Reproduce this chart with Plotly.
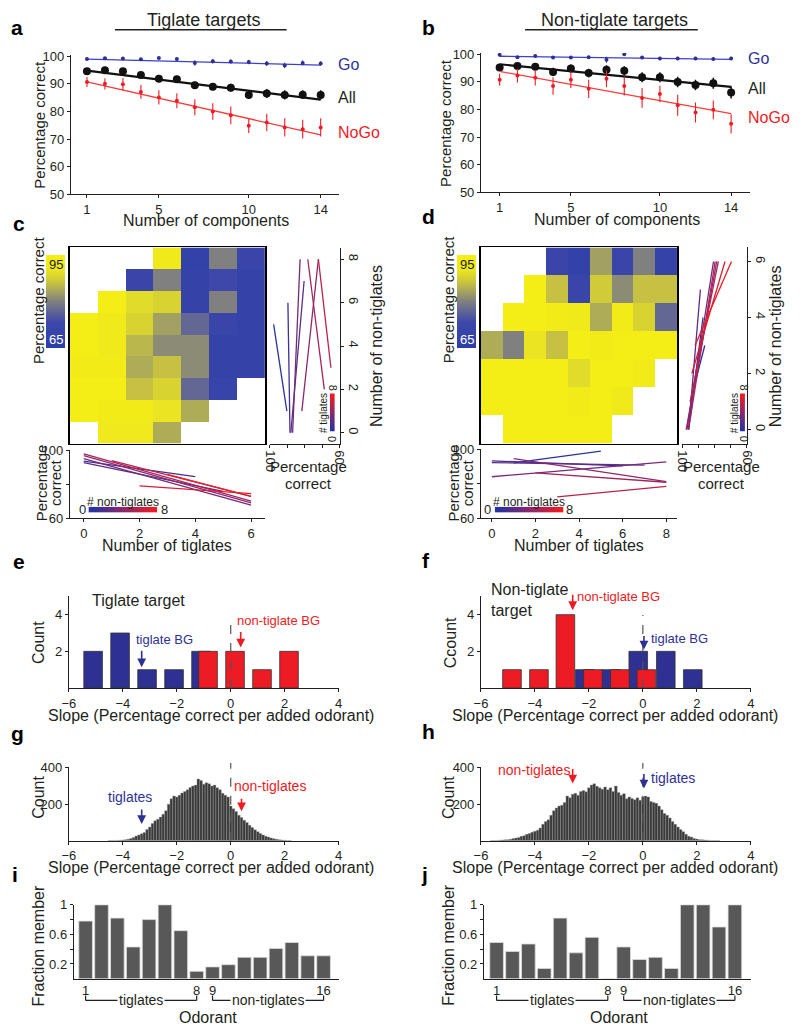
import plotly.graph_objects as go

W, H = 800, 1036
FONT = 'Liberation Sans, Arial, Helvetica, sans-serif'
INK = '#231f20'
BLUE = '#2e3192'
BLUE_L = '#3f3fcf'
RED = '#ed1c24'
RED_L = '#ff3a3a'

# ===================== DATA =====================
components = list(range(1, 15))
comp_ticks = [1, 5, 10, 14]

a_go = [99.0, 99.3, 99.2, 98.9, 99.4, 99.0, 97.6, 98.2, 98.1, 97.9, 97.4, 96.7, 97.6, 97.4]
a_go_err = [0.5, 0.4, 0.4, 0.5, 0.4, 0.5, 1.0, 0.8, 0.7, 0.8, 0.9, 1.0, 0.9, 0.8]
a_all = [94.6, 94.9, 94.6, 93.2, 91.9, 91.7, 89.5, 89.0, 88.6, 86.0, 86.5, 86.0, 86.1, 86.0]
a_all_err = [0.8, 0.9, 1.0, 1.0, 1.1, 1.2, 1.3, 1.3, 1.4, 1.5, 1.6, 1.7, 1.6, 1.7]
a_nogo = [90.7, 90.0, 89.9, 87.1, 85.1, 83.9, 81.5, 80.0, 78.6, 74.8, 76.0, 74.2, 73.6, 74.2]
a_nogo_err = [1.8, 2.0, 2.2, 2.5, 2.6, 2.7, 2.9, 3.0, 3.2, 2.6, 3.2, 3.3, 3.4, 3.3]
a_fit_go = [99.0, 96.8]
a_fit_all = [94.8, 84.3]
a_fit_nogo = [90.7, 71.5]

b_go = [99.8, 98.9, 99.4, 98.8, 98.8, 98.9, 98.0, 100.0, 98.8, 98.5, 98.5, 98.5, 98.3, 98.5]
b_go_err = [0.3, 0.4, 0.4, 0.5, 0.5, 0.5, 1.1, 0.3, 0.6, 0.6, 0.6, 0.6, 0.6, 0.6]
b_all = [95.2, 95.8, 95.5, 93.6, 94.9, 93.2, 94.4, 94.0, 91.7, 91.7, 90.0, 88.9, 89.5, 86.2]
b_all_err = [1.2, 1.2, 1.3, 1.5, 1.4, 1.6, 1.6, 1.7, 1.8, 1.8, 1.9, 1.9, 2.0, 2.2]
b_nogo = [90.8, 92.3, 91.5, 88.5, 90.8, 87.5, 91.1, 88.5, 84.2, 85.6, 81.5, 78.9, 79.9, 74.8]
b_nogo_err = [2.2, 2.5, 2.8, 3.2, 3.0, 3.3, 3.0, 3.4, 3.6, 3.0, 3.8, 3.6, 3.4, 3.5]
b_fit_go = [99.3, 98.2]
b_fit_all = [96.4, 88.2]
b_fit_nogo = [93.8, 78.5]

# heatmaps: rows = number of non-tiglates, columns = number of tiglates
c_tig = list(range(7))
c_nontig = list(range(9))
c_hm = [
    [None, 91, 91, 84, None, None, None],
    [94, 93, 93, 90, 84, None, None],
    [94, 94, 86, 88, 77, 70, None],
    [93, 93, 84, 86, 81, 69, 69],
    [94, 92, 85, 81, 81, 69, 69],
    [94, 92, 88, 83, 77, 71, 69],
    [None, 94, 89, 88, 69, 80, 69],
    [None, None, 71, 80, 69, 73, 69],
    [None, None, None, 92, 68, 80, 71],
]
d_tig = list(range(9))
d_nontig = list(range(7))
d_hm = [
    [None, 94, 94, 94, 94, 94, None, None, None],
    [94, 94, 94, 94, 93, 94, 92, None, None],
    [94, 94, 94, 94, 89, 94, 94, 93, None],
    [84, 80, 90, 86, 94, 93, 94, 94, 94],
    [None, 94, 94, 93, 92, 84, 93, 88, 77],
    [None, None, 94, 86, 71, 87, 81, 86, 86],
    [None, None, None, 71, 68, 83, 71, 80, 69],
]

# side fits (per number of tiglates): % correct vs number of non-tiglates
c_side_tig = [0, 1, 2, 3, 4, 5, 6]
c_side_nt_lo = [1, 0, 0, 0, 1, 2, 3]
c_side_nt_hi = [5, 6, 7, 8, 8, 8, 8]
c_side_pc_lo = [90.3, 88.5, 88.0, 87.0, 81.7, 68.8, 65.0]
c_side_pc_hi = [97.9, 89.7, 80.4, 82.7, 72.2, 78.3, 72.2]

d_side_tig = [0, 1, 2, 3, 4, 5, 6, 7, 8]
d_side_nt_lo = [1, 0, 0, 0, 0, 0, 1, 2, 3]
d_side_nt_hi = [3, 4, 5, 6, 6, 6, 6, 6, 6]
d_side_pc_lo = [95.0, 96.0, 96.0, 97.0, 97.5, 96.0, 95.0, 94.0, 92.0]
d_side_pc_hi = [86.0, 87.1, 88.7, 80.6, 78.6, 79.6, 77.6, 73.5, 69.5]

# bottom fits (per number of non-tiglates): % correct vs number of tiglates
c_bot_nt = [1, 2, 3, 4, 5, 6, 7, 8]
c_bot_x_lo = [0, 0, 0, 0, 0, 1, 2, 3]
c_bot_x_hi = [4, 5, 6, 6, 6, 6, 6, 6]
c_bot_pc_lo = [93.8, 92.9, 95.2, 97.0, 98.0, 94.0, 79.2, 86.0]
c_bot_pc_hi = [84.6, 76.0, 67.9, 69.2, 70.2, 73.0, 74.6, 73.0]

d_bot_nt = [0, 1, 2, 3, 4, 5, 6]
d_bot_x_lo = [1, 0, 0, 0, 1, 2, 3]
d_bot_x_hi = [5, 6, 7, 8, 8, 8, 8]
d_bot_pc_lo = [92.2, 93.4, 92.4, 84.2, 94.7, 86.5, 72.5]
d_bot_pc_hi = [99.0, 90.5, 90.9, 92.8, 81.4, 81.0, 78.6]

# slope histograms (e, f)
e_blue_x = [-5.1, -4.1, -3.1, -2.1, -1.1]
e_blue_n = [2, 3, 1, 1, 2]
e_red_x = [-0.84, 0.16, 1.16, 2.16]
e_red_n = [2, 2, 1, 2]
f_blue_x = [-2.15, -1.18, -0.17, 0.85, 1.85]
f_blue_n = [1, 1, 2, 2, 1]
f_red_x = [-4.85, -3.85, -2.87, -1.85, -0.85, 0.13]
f_red_n = [1, 1, 4, 1, 1, 1]
e_arrows = {'tiglate BG': -3.3, 'non-tiglate BG': 0.37}
f_arrows = {'non-tiglate BG': -2.6, 'tiglate BG': 0.04}

# shuffled slope distributions (g, h), bin width 0.1
g_start, h_start, bin_w = -4.5, -5.6, 0.1
g_counts = [1, 1, 2, 2, 3, 4, 6, 8, 12, 18, 26, 32, 38, 45, 62, 75, 95, 110, 118, 130,
            145, 165, 200, 230, 245, 240, 250, 262, 270, 280, 292, 300, 305, 338, 330, 310, 318, 312, 300, 305,
            290, 280, 260, 250, 240, 190, 175, 160, 140, 128, 112, 100, 85, 72, 60, 50, 40, 32, 25, 20,
            15, 11, 8, 6, 4, 3, 2, 1]
h_counts = [1, 2, 2, 3, 4, 5, 6, 8, 12, 15, 18, 24, 28, 35, 40, 46, 52, 58, 70, 90,
            105, 115, 140, 165, 180, 190, 195, 210, 245, 235, 255, 260, 250, 270, 275, 268, 290, 305, 312, 298,
            290, 282, 295, 280, 290, 270, 300, 265, 250, 258, 230, 240, 232, 225, 235, 222, 240, 245, 240, 215,
            210, 205, 190, 170, 150, 140, 125, 105, 90, 75, 62, 50, 35, 25, 20, 12, 9, 6, 5, 4,
            3, 2, 2, 1, 1]
g_arrows = {'tiglates': -3.3, 'non-tiglates': 0.4}
h_arrows = {'non-tiglates': -2.6, 'tiglates': 0.04}

# fraction member (i, j)
odorants = list(range(1, 17))
odor_ticks = [1, 8, 9, 16]
i_frac = [0.78, 1.0, 0.82, 0.43, 0.80, 1.0, 0.65, 0.10, 0.16, 0.19, 0.29, 0.29, 0.41, 0.49, 0.31, 0.31]
j_frac = [0.49, 0.37, 0.47, 0.14, 0.82, 0.35, 0.56, 0.0, 0.43, 0.26, 0.29, 0.14, 1.0, 1.0, 0.70, 1.0]

# ===================== HELPERS =====================
def px(x): return x / W
def py(y): return 1 - y / H

def ref(n):
    return ('x' if n == 1 else f'x{n}'), ('y' if n == 1 else f'y{n}')

STOPS = [(0.0, (40, 50, 160)), (0.5, (140, 40, 110)), (1.0, (237, 28, 36))]
def bluered(t):
    t = max(0.0, min(1.0, t))
    for (t0, c0), (t1, c1) in zip(STOPS[:-1], STOPS[1:]):
        if t <= t1:
            f = (t - t0) / (t1 - t0)
            c = [round(c0[k] + f * (c1[k] - c0[k])) for k in range(3)]
            return f'rgb({c[0]},{c[1]},{c[2]})'
    return 'rgb(237,28,36)'
BR_SCALE = [[s, f'rgb{c}'] for s, c in STOPS]
HM_SCALE = [[0.0, 'rgb(45,62,168)'], [0.28, 'rgb(62,72,170)'], [0.5, 'rgb(128,128,128)'],
            [0.72, 'rgb(205,200,60)'], [0.85, 'rgb(238,232,30)'], [1.0, 'rgb(246,238,20)']]

BASE = dict(showgrid=False, zeroline=False, showline=True, linecolor=INK, linewidth=1,
            ticks='outside', ticklen=3, tickwidth=1, tickcolor=INK,
            tickfont=dict(size=13, family=FONT, color=INK))
layout = {}

def set_axes(n, x0, x1, y0, y1, xr, yr, xkw=None, ykw=None):
    xa, ya = ref(n)
    xd = dict(BASE); xd.update(domain=[px(x0), px(x1)], range=xr, anchor=ya)
    yd = dict(BASE); yd.update(domain=[py(y1), py(y0)], range=yr, anchor=xa)
    if xkw: xd.update(xkw)
    if ykw: yd.update(ykw)
    layout['xaxis' if n == 1 else f'xaxis{n}'] = xd
    layout['yaxis' if n == 1 else f'yaxis{n}'] = yd

fig = go.Figure()
ann = []
shapes = []

def text(x, y, s, size=15, color=INK, angle=0, bold=False, **kw):
    d = dict(x=px(x), y=py(y), xref='paper', yref='paper', text=(f'<b>{s}</b>' if bold else s),
             showarrow=False, textangle=angle,
             font=dict(size=size, family=FONT, color=color), xanchor='center', yanchor='middle')
    d.update(kw)
    ann.append(d)

def line_px(x0, y0, x1, y1, color=INK, width=1.2, dash=None):
    shapes.append(dict(type='line', xref='paper', yref='paper', x0=px(x0), y0=py(y0), x1=px(x1), y1=py(y1),
                       line=dict(color=color, width=width, dash=dash)))

# ===================== PANELS a, b =====================
def panel_ab(n, fits, series, xpx, yrng_px, xr):
    xa, ya = ref(n)
    set_axes(n, xpx[0], xpx[1], yrng_px[0], yrng_px[1], xr, [50, 100.5],
             xkw=dict(tickvals=comp_ticks), ykw=dict(tickvals=[50, 60, 70, 80, 90, 100]))
    for (vals, errs, col, lcol, size, lw, et), fit in zip(series, fits):
        fig.add_trace(go.Scatter(x=[components[0], components[-1]], y=fit, mode='lines',
                                 line=dict(color=lcol, width=lw), xaxis=xa, yaxis=ya, showlegend=False))
        fig.add_trace(go.Scatter(x=components, y=vals, mode='markers',
                                 marker=dict(color=col, size=size),
                                 error_y=dict(type='data', array=errs, color=col, thickness=et, width=0),
                                 xaxis=xa, yaxis=ya, showlegend=False))

panel_ab(1, [a_fit_go, a_fit_all, a_fit_nogo],
         [(a_go, a_go_err, BLUE, BLUE_L, 4, 1.3, 1.0),
          (a_all, a_all_err, '#111', '#111', 8, 2.2, 1.5),
          (a_nogo, a_nogo_err, RED, RED_L, 4, 1.3, 1.1)],
         (65, 338), (48.6, 190), [0.1, 15])
panel_ab(2, [b_fit_go, b_fit_all, b_fit_nogo],
         [(b_go, b_go_err, BLUE, BLUE_L, 4, 1.3, 1.0),
          (b_all, b_all_err, '#111', '#111', 8, 2.2, 1.5),
          (b_nogo, b_nogo_err, RED, RED_L, 4, 1.3, 1.1)],
         (483, 757), (46.6, 188), [-0.05, 15.05])

text(200, 13, 'Tiglate targets', size=18)
line_px(110, 23, 285, 23, width=1.5)
text(619, 13, 'Non-tiglate targets', size=18)
line_px(528, 23, 704, 23, width=1.5)
text(335, 58, 'Go', size=16, color=BLUE, xanchor='left')
text(335, 92, 'All', size=16, color=INK, xanchor='left')
text(335, 127, 'NoGo', size=16, color=RED, xanchor='left')
text(753, 52, 'Go', size=16, color=BLUE, xanchor='left')
text(753, 83, 'All', size=16, color=INK, xanchor='left')
text(753, 112, 'NoGo', size=16, color=RED, xanchor='left')
text(33, 119, 'Percentage correct', size=15, angle=-90)
text(447, 118, 'Percentage correct', size=15, angle=-90)
text(203, 217, 'Number of components', size=16)
text(622, 216, 'Number of components', size=16)

# ===================== PANELS c, d heatmaps =====================
HM_AX = dict(showline=True, mirror=True, linecolor='#000', linewidth=1.5, ticks='', showticklabels=False)
set_axes(3, 64, 263, 244, 443, [-0.5, 6.5], [-0.5, 8.5], xkw=HM_AX, ykw=HM_AX)
set_axes(6, 483, 683, 244, 443, [-0.5, 8.5], [-0.5, 6.5], xkw=HM_AX, ykw=HM_AX)
fig.add_trace(go.Heatmap(x=c_tig, y=c_nontig, z=c_hm, coloraxis='coloraxis', xaxis='x3', yaxis='y3',
                         hoverongaps=False))
fig.add_trace(go.Heatmap(x=d_tig, y=d_nontig, z=d_hm, coloraxis='coloraxis2', xaxis='x6', yaxis='y6',
                         hoverongaps=False))
def cbar(xleft):
    return dict(thickness=19, thicknessmode='pixels', len=93, lenmode='pixels', x=px(xleft), xanchor='left',
                y=py(252), yanchor='top', xpad=0, ypad=0, outlinewidth=0, showticklabels=False, ticks='')
layout['coloraxis'] = dict(colorscale=HM_SCALE, cmin=65, cmax=95, colorbar=cbar(40))
layout['coloraxis2'] = dict(colorscale=HM_SCALE, cmin=65, cmax=95, colorbar=cbar(459))
for xc in (49.5, 468.5):
    text(xc, 261, '95', size=13, color=INK)
    text(xc, 337, '65', size=13, color='white')
text(32, 297, 'Percentage correct', size=15, angle=-90)
text(450, 297, 'Percentage correct', size=15, angle=-90)

# side plots (right)
SIDE_X = dict(tickvals=[100, 90, 80, 70, 60], ticktext=['100', '', '', '', '60'], tickangle=90)
set_axes(4, 268, 339, 245, 443, [100, 60], [-0.5, 8.5], xkw=SIDE_X,
         ykw=dict(side='right', tickvals=[0, 2, 4, 6, 8], tickangle=90))
set_axes(7, 688, 754, 244, 443, [100, 60], [-0.5, 6.5], xkw=SIDE_X,
         ykw=dict(side='right', tickvals=[0, 2, 4, 6], tickangle=90))
for tg, n0, n1, p0, p1 in zip(c_side_tig, c_side_nt_lo, c_side_nt_hi, c_side_pc_lo, c_side_pc_hi):
    fig.add_trace(go.Scatter(x=[p0, p1], y=[n0, n1], mode='lines', line=dict(color=bluered(tg / 8), width=1.3),
                             xaxis='x4', yaxis='y4', showlegend=False))
for tg, n0, n1, p0, p1 in zip(d_side_tig, d_side_nt_lo, d_side_nt_hi, d_side_pc_lo, d_side_pc_hi):
    fig.add_trace(go.Scatter(x=[p0, p1], y=[n0, n1], mode='lines', line=dict(color=bluered(tg / 8), width=1.3),
                             xaxis='x7', yaxis='y7', showlegend=False))
text(376, 344, 'Number of non-tiglates', size=16, angle=-90)
text(783, 344, 'Number of non-tiglates', size=16, angle=-90)
for x0 in (307, 728):
    text(x0, 466, 'Percentage', size=15)
    text(x0, 483, 'correct', size=15)

# bottom plots
BOT_Y = dict(tickvals=[60, 80, 100], ticktext=['60', '', '100'])
set_axes(5, 64, 263, 450, 519, [-0.5, 6.5], [60, 100], xkw=dict(tickvals=[0, 2, 4, 6]), ykw=BOT_Y)
set_axes(8, 483, 683, 449, 519, [-0.5, 8.5], [60, 100], xkw=dict(tickvals=[0, 2, 4, 6, 8]), ykw=BOT_Y)
for nt, x0, x1, p0, p1 in zip(c_bot_nt, c_bot_x_lo, c_bot_x_hi, c_bot_pc_lo, c_bot_pc_hi):
    fig.add_trace(go.Scatter(x=[x0, x1], y=[p0, p1], mode='lines', line=dict(color=bluered(nt / 8), width=1.3),
                             xaxis='x5', yaxis='y5', showlegend=False))
for nt, x0, x1, p0, p1 in zip(d_bot_nt, d_bot_x_lo, d_bot_x_hi, d_bot_pc_lo, d_bot_pc_hi):
    fig.add_trace(go.Scatter(x=[x0, x1], y=[p0, p1], mode='lines', line=dict(color=bluered(nt / 8), width=1.3),
                             xaxis='x8', yaxis='y8', showlegend=False))
for x0, xc in ((35, 163), (455, 583)):
    text(x0, 483, 'Percentage', size=15, angle=-90)
    text(x0 + 14, 483, 'correct', size=15, angle=-90)
    text(xc, 546, 'Number of tiglates', size=16)

# mini colour keys
NOAX = dict(showline=False, ticks='', showticklabels=False)
key = list(range(9))
set_axes(15, 329, 334, 392, 431, [-0.5, 0.5], [-0.5, 8.5], xkw=NOAX, ykw=NOAX)
set_axes(17, 747, 752, 392, 431, [-0.5, 0.5], [-0.5, 8.5], xkw=NOAX, ykw=NOAX)
set_axes(16, 83, 153, 507, 513, [-0.5, 8.5], [-0.5, 0.5], xkw=NOAX, ykw=NOAX)
set_axes(18, 497, 567, 507, 513, [-0.5, 8.5], [-0.5, 0.5], xkw=NOAX, ykw=NOAX)
for n in (15, 17):
    xa, ya = ref(n)
    fig.add_trace(go.Heatmap(z=[[k] for k in key], x=[0], y=key, colorscale=BR_SCALE, showscale=False,
                             zsmooth='best', xaxis=xa, yaxis=ya))
for n in (16, 18):
    xa, ya = ref(n)
    fig.add_trace(go.Heatmap(z=[key], x=key, y=[0], colorscale=BR_SCALE, showscale=False,
                             zsmooth='best', xaxis=xa, yaxis=ya))
for xc in (331, 750):
    text(xc + 1, 386, '8', size=11, angle=90)
    text(xc + 1, 438, '0', size=11, angle=90)
    text(xc - 9, 412, '# tiglates', size=10, angle=-90)
for x0, x1, xc in ((77, 160, 118), (490, 573, 532)):
    text(x0, 510, '0', size=13)
    text(x1, 510, '8', size=13)
    text(xc, 502, '# non-tiglates', size=12)

# ===================== PANELS e, f =====================
SLOPE_X = dict(tickvals=[-6, -4, -2, 0, 2, 4])
set_axes(9, 63, 338, 598, 691, [-6, 4], [0, 5], xkw=SLOPE_X, ykw=dict(tickvals=[2, 4]))
set_axes(10, 483, 758, 598, 691, [-6, 4], [0, 5], xkw=SLOPE_X, ykw=dict(tickvals=[2, 4]))
for n, bx, bn, rx, rn in ((9, e_blue_x, e_blue_n, e_red_x, e_red_n), (10, f_blue_x, f_blue_n, f_red_x, f_red_n)):
    xa, ya = ref(n)
    fig.add_trace(go.Bar(x=bx, y=bn, width=0.69, marker=dict(color=BLUE, line=dict(color='#333', width=0.8)),
                         xaxis=xa, yaxis=ya, showlegend=False))
    fig.add_trace(go.Bar(x=rx, y=rn, width=0.69, marker=dict(color=RED, line=dict(color='#333', width=0.8)),
                         xaxis=xa, yaxis=ya, showlegend=False))

def arrow(n, xval, y_tail, y_head, color):
    xa, _ = ref(n)
    ann.append(dict(x=xval, y=py(y_head), xref=xa, yref='paper', ax=0, ay=-(y_head - y_tail),
                    axref='pixel', ayref='pixel', text='', showarrow=True, arrowhead=2, arrowsize=1.1,
                    arrowwidth=1.6, arrowcolor=color))

def vdash(n, y_top, y_bot):
    xa, _ = ref(n)
    shapes.append(dict(type='line', xref=xa, yref='paper', x0=0, x1=0, y0=py(y_bot), y1=py(y_top),
                       line=dict(color='#555', width=1.2, dash='dash'), layer='above'))

vdash(9, 620, 691)
vdash(10, 617, 691)
arrow(9, e_arrows['tiglate BG'], 652, 670, BLUE)
arrow(9, e_arrows['non-tiglate BG'], 633, 650, RED)
arrow(10, f_arrows['non-tiglate BG'], 595, 612, RED)
arrow(10, f_arrows['tiglate BG'], 637, 652, BLUE)
text(134, 602, 'Tiglate target', size=16)
text(160, 642, 'tiglate BG', size=13, color=BLUE)
text(277, 623, 'non-tiglate BG', size=13, color=RED)
text(491, 602, 'Non-tiglate<br>target', size=16, xanchor='left', align='left')
text(623, 598, 'non-tiglate BG', size=13, color=RED)
text(685, 641, 'tiglate BG', size=13, color=BLUE)
text(32, 645, 'Count', size=16, angle=-90)
text(452, 645, 'Ccount', size=16, angle=-90)
text(208, 719, 'Slope (Percentage correct per added odorant)', size=16)
text(620, 719, 'Slope (Percentage correct per added odorant)', size=16)

# ===================== PANELS g, h =====================
set_axes(11, 63, 338, 771, 846, [-6, 4], [0, 405], xkw=SLOPE_X, ykw=dict(tickvals=[200, 400]))
set_axes(12, 483, 758, 771, 846, [-6, 4], [0, 405], xkw=SLOPE_X, ykw=dict(tickvals=[200, 400]))
for n, start, counts in ((11, g_start, g_counts), (12, h_start, h_counts)):
    xa, ya = ref(n)
    centers = [round(start + k * bin_w, 2) for k in range(len(counts))]
    fig.add_trace(go.Bar(x=centers, y=counts, width=bin_w,
                         marker=dict(color='#3a3a3a', line=dict(color='#9a9a9a', width=0.4)),
                         xaxis=xa, yaxis=ya, showlegend=False))
vdash(11, 767, 846)
vdash(12, 767, 846)
arrow(11, g_arrows['tiglates'], 813, 829, BLUE)
arrow(11, g_arrows['non-tiglates'], 802, 816, RED)
arrow(12, h_arrows['non-tiglates'], 772, 788, RED)
arrow(12, h_arrows['tiglates'], 777, 793, BLUE)
text(125, 802, 'tiglates', size=14, color=BLUE)
text(268, 790, 'non-tiglates', size=14, color=RED)
text(537, 774, 'non-tiglates', size=14, color=RED)
text(679, 782, 'tiglates', size=14, color=BLUE)
text(32, 802, 'Count', size=16, angle=-90)
text(450, 802, 'Count', size=16, angle=-90)
text(208, 873, 'Slope (Percentage correct per added odorant)', size=16)
text(620, 873, 'Slope (Percentage correct per added odorant)', size=16)

# ===================== PANELS i, j =====================
FR_Y = dict(tickvals=[0.2, 0.4, 0.6, 0.8, 1.0], ticktext=['0.2', '', '0.6', '', '1'])
OD_X = dict(tickvals=odor_ticks, ticks='')
set_axes(13, 68, 338, 911, 986, [0.25, 16.95], [0, 1.0], xkw=OD_X, ykw=FR_Y)
set_axes(14, 486, 758, 911, 986, [0.2, 17.0], [0, 1.0], xkw=OD_X, ykw=FR_Y)
for n, fr in ((13, i_frac), (14, j_frac)):
    xa, ya = ref(n)
    fig.add_trace(go.Bar(x=odorants, y=fr, width=0.86,
                         marker=dict(color='#585858', line=dict(color='#dddddd', width=0.8)),
                         xaxis=xa, yaxis=ya, showlegend=False))

def bracket(n, a, b, label):
    xa, _ = ref(n)
    for x0, x1, y0, y1 in ((a, b, 1008, 1008), (a, a, 1003, 1008), (b, b, 1003, 1008)):
        shapes.append(dict(type='line', xref=xa, yref='paper', x0=x0, x1=x1, y0=py(y0), y1=py(y1),
                           line=dict(color=INK, width=1.2)))
    ann.append(dict(x=(a + b) / 2, y=py(1008), xref=xa, yref='paper', text=label, showarrow=False,
                    bgcolor='white', borderpad=1, font=dict(size=14, family=FONT, color=INK),
                    xanchor='center', yanchor='middle'))

bracket(13, 1, 8, 'tiglates')
bracket(13, 9, 16, 'non-tiglates')
bracket(14, 1, 8, 'tiglates')
bracket(14, 9, 16, 'non-tiglates')
text(205, 1025, 'Odorant', size=16)
text(624, 1025, 'Odorant', size=16)
text(32, 952, 'Fraction member', size=16, angle=-90)
text(450, 952, 'Fraction member', size=16, angle=-90)

# panel letters
for (x, y, s) in ((10, 21, 'a'), (430, 21, 'b'), (12, 220, 'c'), (430, 213, 'd'), (12, 563, 'e'),
                  (427, 562, 'f'), (11, 737, 'g'), (430, 735, 'h'), (8, 880, 'i'), (425, 880, 'j')):
    text(x, y, s, size=21, bold=True, color='#000')

fig.update_layout(**layout)
fig.update_layout(width=W, height=H, margin=dict(l=0, r=0, t=0, b=0), paper_bgcolor='white',
                  plot_bgcolor='white', showlegend=False, barmode='overlay',
                  font=dict(family=FONT, color=INK), annotations=ann, shapes=shapes)
fig.write_html('out.html', config={'displayModeBar': False, 'staticPlot': True},
               post_script="document.body.style.margin='0';document.body.style.overflow='hidden';"
                           "document.documentElement.style.overflow='hidden';")
